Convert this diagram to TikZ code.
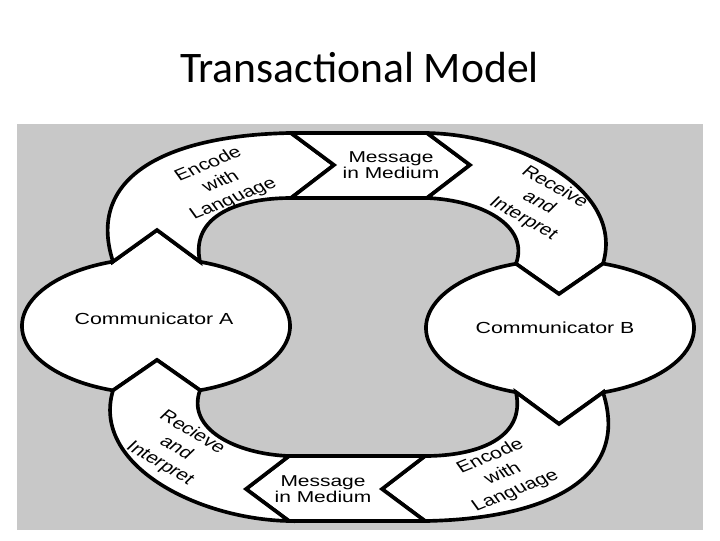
\documentclass[tikz,border=0pt]{standalone}
\usepackage{fontspec}
\setmainfont{Liberation Sans}
\newfontfamily\titlefont{Carlito}
\definecolor{panelgray}{RGB}{200,200,200}

\begin{document}
\begin{tikzpicture}[x=0.025cm, y=-0.025cm,
        blob/.style={fill=white, draw=black, line width=2.6pt},
        lbl/.style={text=black, align=center, xscale=1.33, font=\fontsize{11.4}{14}\selectfont},
        msgbox/.style={lbl, font=\fontsize{11.2}{11.4}\selectfont}]
        \useasboundingbox (0,0) rectangle (720,540);
        \node[font=\titlefont\fontsize{31}{31}\selectfont, anchor=base] (title) at (359.5,82) {Transactional Model};
        \fill[panelgray] (17,124) rectangle (703,530);
        \foreach \r in {0,180} {
            \begin{scope}[rotate around={\r:(358,327)}]
                \coordinate (tl) at (113,261.6);
                \coordinate (tr) at (200,261.8);
                \coordinate (bl) at (113,390.4);
                \coordinate (br) at (200,390.2);
                \coordinate (m1) at (291,133);
                \coordinate (m2) at (427,133);
                \coordinate (m3) at (427,198);
                \coordinate (m4) at (291,198);
                \draw[blob] (tl) -- (157,230) -- (tr) arc[start angle=289.17, end angle=430.83, x radius=134, y radius=68]
                    -- (157,360) -- (bl) arc[start angle=108.72, end angle=251.28, x radius=134, y radius=68] -- cycle;
                \draw[blob] (tl) .. controls (85,175) and (170,135) .. (m1) -- (334,165) -- (m4)
                    .. controls (240,198) and (190,215) .. (tr) -- (157,230) -- cycle;
                \draw[blob] (m1) -- (m2) -- (470,165) -- (m3) -- (m4) -- (334,165) -- cycle;
                \draw[blob] (m2) .. controls (520,135) and (625,190) .. (603,263.6) -- (559,294) -- (516,263.8)
                    .. controls (530,225) and (480,200) .. (m3) -- (470,165) -- cycle;
            \end{scope}
        }
        \node[lbl] (commA) at (154,319) {Communicator A};
        \node[lbl] (commB) at (555,327.5) {Communicator B};
        \node[msgbox] (msgTop) at (391,165.5) {Message\\in Medium};
        \node[msgbox] (msgBot) at (323,489) {Message\\in Medium};
        \node[lbl, rotate=28.5] (encTop) at (221,182) {Encode\\with\\Language};
        \node[lbl, rotate=-37] (recTop) at (539,203) {Receive\\and\\Interpret};
        \node[lbl, rotate=-38] (recBot) at (176,448) {Recieve\\and\\Interpret};
        \node[lbl, rotate=28.5] (encBot) at (503,474) {Encode\\with\\Language};
\end{tikzpicture}
\end{document}
